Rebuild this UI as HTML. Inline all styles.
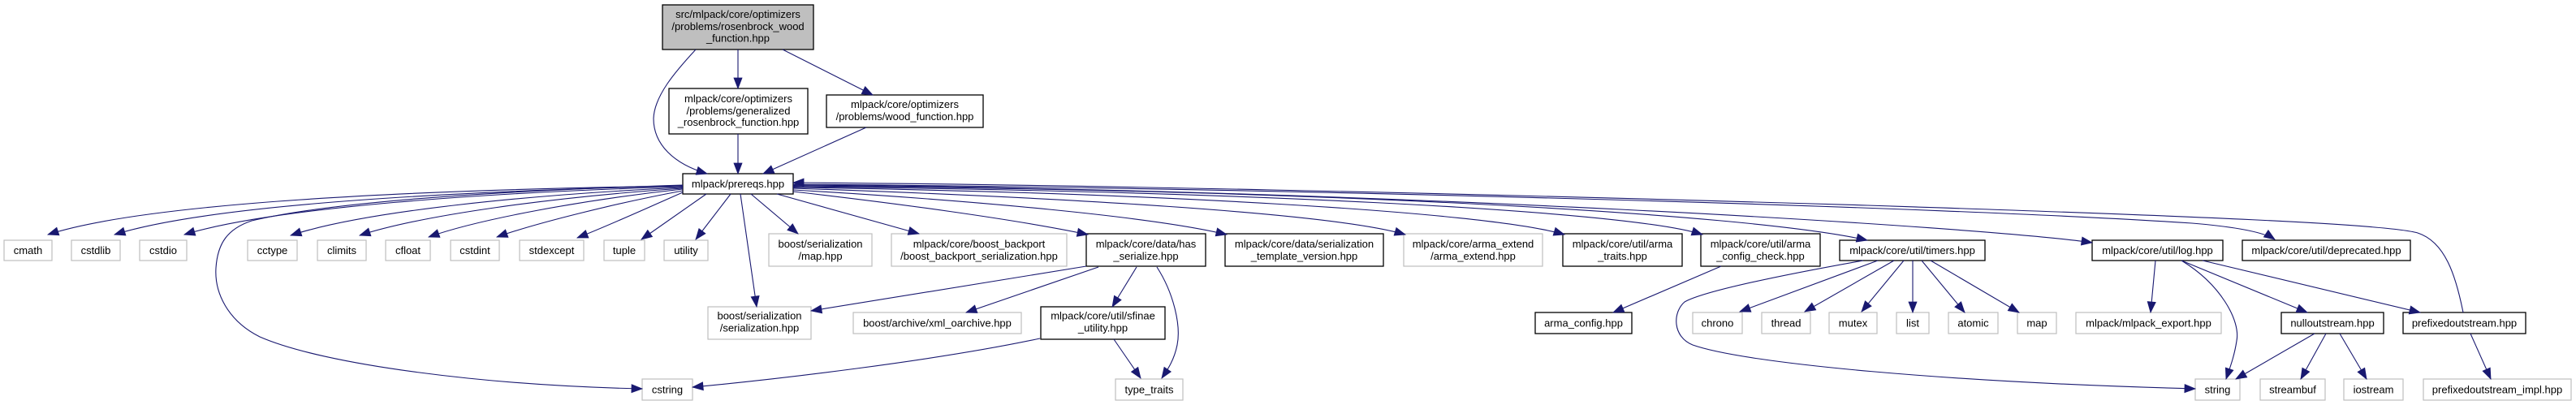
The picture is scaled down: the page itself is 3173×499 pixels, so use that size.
<!DOCTYPE html>
<html>
<head>
<meta charset="utf-8">
<style>
html,body{margin:0;padding:0;background:#fff;}
svg{display:block;}
text{font-family:"Liberation Sans",Arial,Helvetica,sans-serif;font-size:13px;fill:#000;text-anchor:middle;}
.g{fill:#fff;stroke:#bfbfbf;stroke-width:1.2;}
.b{fill:#fff;stroke:#000;stroke-width:1.3;}
.r{fill:#bfbfbf;stroke:#000;stroke-width:1.3;}
.e path{fill:none;stroke:#191970;stroke-width:1.1;marker-end:url(#a);}
</style>
</head>
<body>
<svg width="3173" height="499" viewBox="0 0 3173 499" xmlns="http://www.w3.org/2000/svg">
<defs>
<marker id="a" markerUnits="userSpaceOnUse" markerWidth="14" markerHeight="11" refX="13" refY="5" orient="auto" viewBox="0 0 14 10" overflow="visible">
<path d="M0,0 L13,5 L0,10 z" fill="#191970" stroke="#191970" stroke-width="0.8"/>
</marker>
</defs>
<rect width="3173" height="499" fill="#fff"/>

<!-- nodes -->
<rect class="r" x="816" y="6" width="186" height="55"/>
<text x="909" y="22">src/mlpack/core/optimizers</text>
<text x="909" y="37">/problems/rosenbrock_wood</text>
<text x="909" y="51.5">_function.hpp</text>

<rect class="b" x="824" y="109" width="171" height="56"/>
<text x="909.5" y="126">mlpack/core/optimizers</text>
<text x="909.5" y="141">/problems/generalized</text>
<text x="909.5" y="155">_rosenbrock_function.hpp</text>

<rect class="b" x="1018" y="117" width="193" height="40"/>
<text x="1114.5" y="133">mlpack/core/optimizers</text>
<text x="1114.5" y="148">/problems/wood_function.hpp</text>

<rect class="b" x="841" y="214" width="136" height="25"/>
<text x="909" y="231">mlpack/prereqs.hpp</text>

<!-- row 4 -->
<rect class="g" x="5" y="296" width="59" height="25"/><text x="34.5" y="313">cmath</text>
<rect class="g" x="88" y="296" width="60" height="25"/><text x="118" y="313">cstdlib</text>
<rect class="g" x="172" y="296" width="58" height="25"/><text x="201" y="313">cstdio</text>
<rect class="g" x="305" y="296" width="61" height="25"/><text x="335.5" y="313">cctype</text>
<rect class="g" x="391" y="296" width="60" height="25"/><text x="421" y="313">climits</text>
<rect class="g" x="475" y="296" width="55" height="25"/><text x="502.5" y="313">cfloat</text>
<rect class="g" x="555" y="296" width="60" height="25"/><text x="585" y="313">cstdint</text>
<rect class="g" x="640" y="296" width="79" height="25"/><text x="679.5" y="313">stdexcept</text>
<rect class="g" x="744" y="296" width="50" height="25"/><text x="769" y="313">tuple</text>
<rect class="g" x="818" y="296" width="54" height="25"/><text x="845" y="313">utility</text>

<rect class="g" x="947" y="288" width="127" height="40"/>
<text x="1010.5" y="305">boost/serialization</text><text x="1010.5" y="320">/map.hpp</text>

<rect class="g" x="1098" y="288" width="216" height="40"/>
<text x="1206" y="305">mlpack/core/boost_backport</text><text x="1206" y="320">/boost_backport_serialization.hpp</text>

<rect class="b" x="1338" y="288" width="147" height="40"/>
<text x="1411.5" y="305">mlpack/core/data/has</text><text x="1411.5" y="320">_serialize.hpp</text>

<rect class="b" x="1509" y="288" width="195" height="40"/>
<text x="1606.5" y="305">mlpack/core/data/serialization</text><text x="1606.5" y="320">_template_version.hpp</text>

<rect class="g" x="1729" y="288" width="171" height="40"/>
<text x="1814.5" y="305">mlpack/core/arma_extend</text><text x="1814.5" y="320">/arma_extend.hpp</text>

<rect class="b" x="1925" y="288" width="147" height="40"/>
<text x="1998.5" y="305">mlpack/core/util/arma</text><text x="1998.5" y="320">_traits.hpp</text>

<rect class="b" x="2095" y="288" width="147" height="40"/>
<text x="2168.5" y="305">mlpack/core/util/arma</text><text x="2168.5" y="320">_config_check.hpp</text>

<rect class="b" x="2266" y="296" width="179" height="25"/><text x="2355.5" y="313">mlpack/core/util/timers.hpp</text>
<rect class="b" x="2577" y="296" width="161" height="25"/><text x="2657.5" y="313">mlpack/core/util/log.hpp</text>
<rect class="b" x="2762" y="296" width="207" height="25"/><text x="2865.5" y="313">mlpack/core/util/deprecated.hpp</text>

<!-- row 5 -->
<rect class="g" x="872" y="378" width="127" height="40"/>
<text x="935.5" y="393.5">boost/serialization</text><text x="935.5" y="408.5">/serialization.hpp</text>

<rect class="g" x="1051" y="385" width="207" height="26"/><text x="1154.5" y="402.5">boost/archive/xml_oarchive.hpp</text>

<rect class="b" x="1282" y="378" width="153" height="40"/>
<text x="1358.5" y="393.5">mlpack/core/util/sfinae</text><text x="1358.5" y="408.5">_utility.hpp</text>

<rect class="b" x="1891" y="385" width="119" height="26"/><text x="1950.5" y="402.5">arma_config.hpp</text>
<rect class="g" x="2085" y="385" width="61" height="26"/><text x="2115.5" y="402.5">chrono</text>
<rect class="g" x="2170" y="385" width="60" height="26"/><text x="2200" y="402.5">thread</text>
<rect class="g" x="2253" y="385" width="59" height="26"/><text x="2282.5" y="402.5">mutex</text>
<rect class="g" x="2336" y="385" width="40" height="26"/><text x="2356" y="402.5">list</text>
<rect class="g" x="2400" y="385" width="61" height="26"/><text x="2430.5" y="402.5">atomic</text>
<rect class="g" x="2485" y="385" width="48" height="26"/><text x="2509" y="402.5">map</text>
<rect class="g" x="2557" y="385" width="179" height="26"/><text x="2646.5" y="402.5">mlpack/mlpack_export.hpp</text>
<rect class="b" x="2810" y="385" width="126" height="26"/><text x="2873" y="402.5">nulloutstream.hpp</text>
<rect class="b" x="2960" y="385" width="151" height="26"/><text x="3035.5" y="402.5">prefixedoutstream.hpp</text>

<!-- row 6 -->
<rect class="g" x="791" y="467" width="62" height="26"/><text x="822" y="484.5">cstring</text>
<rect class="g" x="1374" y="467" width="83" height="26"/><text x="1415.5" y="484.5">type_traits</text>
<rect class="g" x="2704" y="467" width="55" height="26"/><text x="2731.5" y="484.5">string</text>
<rect class="g" x="2784" y="467" width="80" height="26"/><text x="2824" y="484.5">streambuf</text>
<rect class="g" x="2887" y="467" width="73" height="26"/><text x="2923.5" y="484.5">iostream</text>
<rect class="g" x="2985" y="467" width="182" height="26"/><text x="3076" y="484.5">prefixedoutstream_impl.hpp</text>

<!-- edges -->
<g class="e">
<path d="M857,61 C832,88 806,118 805,146 C805,178 830,202 871,214"/>
<path d="M909,61 L909,109"/>
<path d="M964,61 L1075,117"/>
<path d="M909,165 L909,214"/>
<path d="M1067,157 L940,214"/>

<path d="M841,229 C500,234 180,250 59,289"/>
<path d="M841,229 C550,236 260,252 141,289"/>
<path d="M841,230 C600,237 340,255 227,289"/>
<path d="M841,231 C650,240 450,260 358,290"/>
<path d="M841,232 C680,243 520,265 443,290"/>
<path d="M841,233 C720,246 590,270 528,292"/>
<path d="M841,235 C760,250 660,275 612,292"/>
<path d="M841,237 C800,255 745,280 711,293"/>
<path d="M870,239 L790,295"/>
<path d="M900,239 L857,295"/>
<path d="M841,228 C650,234 420,246 310,272 C280,282 268,300 266,330 C264,360 280,395 320,415 C400,450 600,475 791,479"/>

<path d="M912,239 L932,378"/>
<path d="M925,239 L983,288"/>
<path d="M957,239 L1132,288"/>
<path d="M977,236 C1100,250 1250,270 1340,289"/>
<path d="M977,234 C1200,247 1420,267 1511,289"/>
<path d="M977,232 C1300,243 1640,262 1731,289"/>
<path d="M977,231 C1400,237 1830,260 1927,289"/>
<path d="M977,230 C1500,235 2000,258 2097,289"/>
<path d="M977,229 C1600,233 2150,262 2300,296"/>
<path d="M977,228 C1700,233 2450,280 2577,299"/>
<path d="M977,227 C1600,232 2400,255 2700,275 C2760,280 2790,287 2802,295"/>
<path d="M3034,385 C3025,340 3012,298 2978,287 C2940,276 2700,266 2300,253 C1800,238 1300,227 977,225"/>

<path d="M1338,328 L999,383"/>
<path d="M1353,329 L1190,385"/>
<path d="M1400,329 L1370,378"/>
<path d="M1425,329 C1445,360 1455,400 1450,425 C1446,445 1437,457 1431,466"/>
<path d="M1372,418 L1405,466"/>
<path d="M1281,417 C1150,445 950,468 853,477"/>
<path d="M2120,328 L1987,385"/>
<path d="M2313,321 L2143,384"/>
<path d="M2333,321 L2223,384"/>
<path d="M2345,321 L2293,384"/>
<path d="M2356,321 L2356,385"/>
<path d="M2367,321 L2420,385"/>
<path d="M2378,321 L2487,385"/>
<path d="M2295,321 C2200,338 2100,358 2075,372 C2060,385 2060,415 2085,425 C2150,448 2400,471 2704,479"/>
<path d="M2655,321 L2649,385"/>
<path d="M2687,321 C2735,350 2760,395 2755,420 C2752,440 2746,455 2742,467"/>
<path d="M2687,321 L2842,385"/>
<path d="M2713,321 L2981,385"/>
<path d="M2851,411 L2754,467"/>
<path d="M2865,411 L2834,467"/>
<path d="M2882,411 L2915,467"/>
<path d="M3043,411 L3068,467"/>
</g>
</svg>
</body>
</html>
